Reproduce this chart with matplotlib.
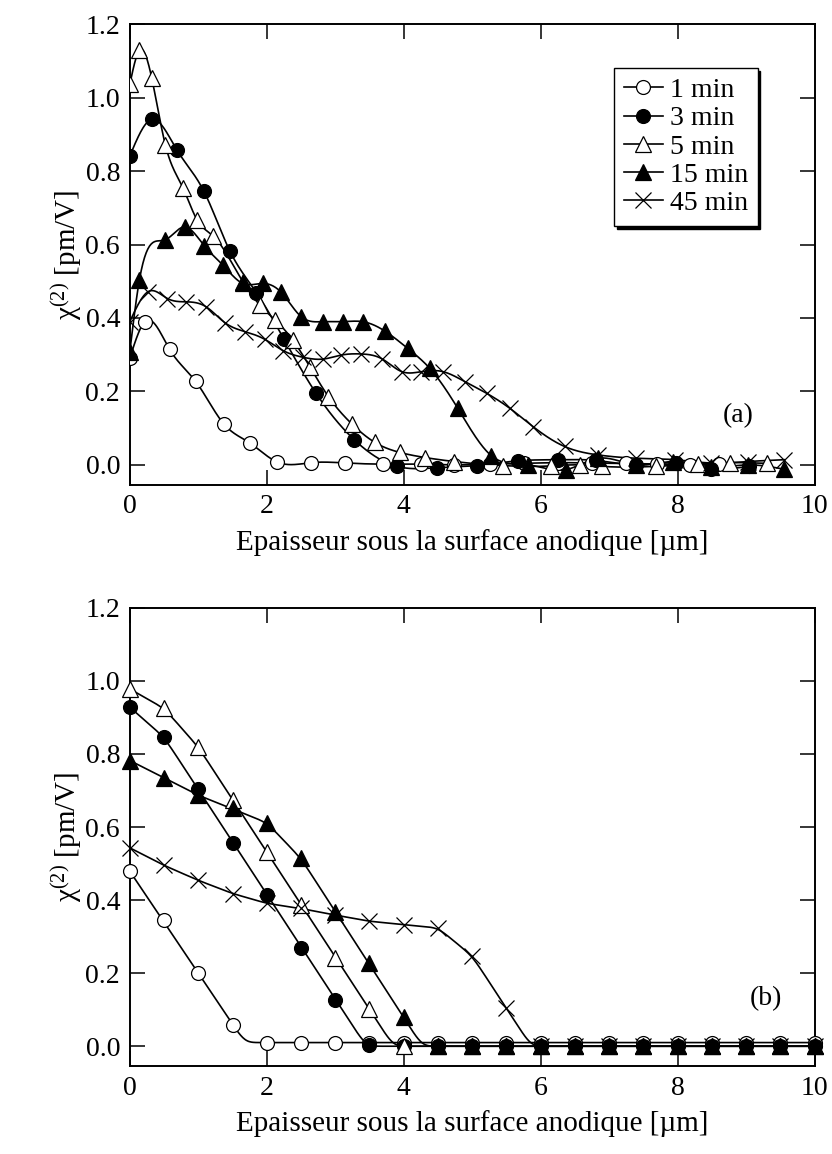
import numpy as np
import matplotlib
matplotlib.use("Agg")
import matplotlib.pyplot as plt
from matplotlib.lines import Line2D

plt.rcParams["font.family"] = ["Liberation Serif", "DejaVu Serif"]
plt.rcParams["mathtext.fontset"] = "custom"
plt.rcParams["mathtext.rm"] = "Liberation Serif"
plt.rcParams["mathtext.it"] = "Liberation Serif:italic"

# ---------------- panel (a): measured profiles ----------------
a_1min_x = [0, 0.22, 0.58, 0.96, 1.38, 1.75, 2.15, 2.65, 3.15, 3.7, 4.26, 4.74,
            5.26, 5.75, 6.25, 6.75, 7.25, 7.7, 8.18, 8.6]
a_1min_y = [0.29, 0.39, 0.315, 0.228, 0.11, 0.06, 0.008, 0.006, 0.005, 0.002, 0.002,
            0.0, 0.002, 0.004, 0.006, 0.005, 0.004, 0.002, 0.0, 0.002]

a_3min_x = [0, 0.32, 0.69, 1.08, 1.46, 1.85, 2.25, 2.72, 3.28, 3.9, 4.48, 5.07,
            5.67, 6.25, 6.81, 7.4, 7.98, 8.49, 9.05]
a_3min_y = [0.841, 0.941, 0.857, 0.746, 0.583, 0.469, 0.343, 0.195, 0.068, -0.004,
            -0.008, -0.002, 0.011, 0.014, 0.012, 0.0, 0.005, -0.01, -0.004]

a_5min_x = [0, 0.14, 0.32, 0.52, 0.78, 0.98, 1.22, 1.65, 1.9, 2.12, 2.38, 2.63, 2.9,
            3.24, 3.58, 3.94, 4.31, 4.74, 5.45, 6.15, 6.57, 6.89, 7.69, 8.3, 8.76, 9.3]
a_5min_y = [1.036, 1.129, 1.054, 0.871, 0.753, 0.668, 0.623, 0.499, 0.435, 0.395,
            0.34, 0.267, 0.186, 0.112, 0.061, 0.034, 0.02, 0.009, -0.002, -0.003,
            0.0, -0.004, -0.004, 0.002, 0.006, 0.004]

a_15min_x = [0, 0.14, 0.51, 0.8, 1.09, 1.36, 1.65, 1.95, 2.21, 2.5, 2.82, 3.11, 3.4,
             3.72, 4.06, 4.38, 4.79, 5.28, 5.82, 6.37, 6.84, 7.4, 7.93, 8.49, 9.03, 9.56]
a_15min_y = [0.308, 0.503, 0.612, 0.648, 0.596, 0.544, 0.494, 0.494, 0.47, 0.404,
             0.39, 0.39, 0.39, 0.365, 0.317, 0.263, 0.154, 0.025, 0.0, -0.013, 0.018,
             0.0, 0.009, -0.005, 0.0, -0.012]

a_45min_x = [0, 0.27, 0.55, 0.82, 1.11, 1.39, 1.68, 1.97, 2.24, 2.53, 2.82, 3.09,
             3.38, 3.69, 3.97, 4.26, 4.57, 4.89, 5.21, 5.55, 5.89, 6.35, 6.84, 7.4,
             7.96, 8.49, 9.03, 9.56]
a_45min_y = [0.39, 0.472, 0.453, 0.444, 0.431, 0.387, 0.363, 0.342, 0.311, 0.293,
             0.288, 0.299, 0.302, 0.288, 0.254, 0.254, 0.254, 0.227, 0.195, 0.154,
             0.104, 0.05, 0.027, 0.018, 0.014, 0.005, 0.009, 0.014]

# ---------------- panel (b): modelled profiles ----------------
b_x = [0, 0.5, 1.0, 1.5, 2.0, 2.5, 3.0, 3.5, 4.0, 4.5, 5.0, 5.5, 6.0, 6.5, 7.0,
       7.5, 8.0, 8.5, 9.0, 9.5, 10.0]
b_1min_y = [0.479, 0.345, 0.201, 0.058, 0.01, 0.01, 0.01, 0.01, 0.01, 0.01, 0.01,
            0.01, 0.01, 0.01, 0.01, 0.01, 0.01, 0.01, 0.01, 0.01, 0.01]
b_3min_y = [0.928, 0.846, 0.703, 0.557, 0.413, 0.268, 0.127, 0.004, 0.0, 0.0, 0.0,
            0.0, 0.0, 0.0, 0.0, 0.0, 0.0, 0.0, 0.0, 0.0, 0.0]
b_5min_y = [0.978, 0.925, 0.819, 0.675, 0.532, 0.386, 0.242, 0.102, 0.0, 0.0, 0.0,
            0.0, 0.0, 0.0, 0.0, 0.0, 0.0, 0.0, 0.0, 0.0, 0.0]
b_15min_y = [0.782, 0.734, 0.687, 0.652, 0.612, 0.514, 0.368, 0.227, 0.081, 0.0,
             0.0, 0.0, 0.0, 0.0, 0.0, 0.0, 0.0, 0.0, 0.0, 0.0, 0.0]
b_45min_y = [0.543, 0.495, 0.454, 0.418, 0.391, 0.377, 0.359, 0.342, 0.333, 0.324,
             0.247, 0.104, 0.0, 0.0, 0.0, 0.0, 0.0, 0.0, 0.0, 0.0, 0.0]

# knots of the model curves in panel (b)
fit_1min_x = [0, 1.68, 10]
fit_1min_y = [0.479, 0.01, 0.01]
fit_3min_x = [0, 0.5, 1.0, 3.45, 10]
fit_3min_y = [0.928, 0.846, 0.703, 0.0, 0.0]
fit_5min_x = [0, 0.5, 1.0, 3.85, 10]
fit_5min_y = [0.978, 0.925, 0.819, 0.0, 0.0]
fit_15min_x = [0, 1.0, 2.0, 2.5, 4.27, 10]
fit_15min_y = [0.782, 0.687, 0.612, 0.514, 0.0, 0.0]
fit_45min_x = [0, 0.5, 1.0, 1.5, 2.0, 2.5, 3.0, 3.5, 4.0, 4.5, 5.0, 5.5, 5.86, 10]
fit_45min_y = [0.543, 0.495, 0.454, 0.418, 0.391, 0.377, 0.359, 0.342, 0.333,
               0.324, 0.247, 0.104, 0.0, 0.0]

labels = ["1 min", "3 min", "5 min", "15 min", "45 min"]
styles = [
    dict(marker="o", mfc="white", mec="black", ms=10, mew=0.9),
    dict(marker="o", mfc="black", mec="black", ms=10, mew=0.9),
    dict(marker="^", mfc="white", mec="black", ms=11, mew=0.9),
    dict(marker="^", mfc="black", mec="black", ms=11, mew=0.9),
    dict(marker="x", mfc="none", mec="black", ms=11, mew=0.9),
]


def natural_spline(x, y, xs):
    x = np.asarray(x, float)
    y = np.asarray(y, float)
    n = len(x)
    h = np.diff(x)
    A = np.zeros((n, n))
    r = np.zeros(n)
    A[0, 0] = A[-1, -1] = 1.0
    for i in range(1, n - 1):
        A[i, i - 1] = h[i - 1]
        A[i, i] = 2 * (h[i - 1] + h[i])
        A[i, i + 1] = h[i]
        r[i] = 6 * ((y[i + 1] - y[i]) / h[i] - (y[i] - y[i - 1]) / h[i - 1])
    m = np.linalg.solve(A, r)
    idx = np.clip(np.searchsorted(x, xs) - 1, 0, n - 2)
    x0, x1 = x[idx], x[idx + 1]
    hh = x1 - x0
    t0 = x1 - xs
    t1 = xs - x0
    return (m[idx] * t0 ** 3 / (6 * hh) + m[idx + 1] * t1 ** 3 / (6 * hh)
            + (y[idx] / hh - m[idx] * hh / 6) * t0
            + (y[idx + 1] / hh - m[idx + 1] * hh / 6) * t1)


def rounded_polyline(x, y, xs, sigma=0.08):
    # piecewise-linear model with softened corners
    x = np.asarray(x, float)
    y = np.asarray(y, float)
    step = xs[1] - xs[0]
    pad = int(4 * sigma / step) + 1
    ext = np.concatenate([xs[0] - step * np.arange(pad, 0, -1), xs,
                          xs[-1] + step * np.arange(1, pad + 1)])
    s0 = (y[1] - y[0]) / (x[1] - x[0])
    s1 = (y[-1] - y[-2]) / (x[-1] - x[-2])
    ye = np.interp(ext, x, y)
    ye = np.where(ext < x[0], y[0] + s0 * (ext - x[0]), ye)
    ye = np.where(ext > x[-1], y[-1] + s1 * (ext - x[-1]), ye)
    k = np.arange(-pad, pad + 1) * step
    w = np.exp(-0.5 * (k / sigma) ** 2)
    w /= w.sum()
    return np.convolve(ye, w, mode="valid")


def style_axes(ax, tag, tag_xy):
    ax.set_xlim(0, 10)
    ax.set_ylim(-0.054, 1.2)
    ax.set_xticks([0, 2, 4, 6, 8, 10])
    ax.set_yticks([0.0, 0.2, 0.4, 0.6, 0.8, 1.0, 1.2])
    ax.set_yticklabels(["0.0", "0.2", "0.4", "0.6", "0.8", "1.0", "1.2"])
    ax.tick_params(direction="in", top=True, right=True, length=11, width=1.1,
                   labelsize=20, pad=7)
    for sp in ax.spines.values():
        sp.set_linewidth(1.4)
    ax.set_xlabel("Epaisseur sous la surface anodique [µm]", fontsize=21, labelpad=7)
    ax.set_ylabel(r"χ$^{\mathrm{(2)}}$ [pm/V]", fontsize=21, labelpad=1)
    ax.text(tag_xy[0], tag_xy[1], tag, fontsize=20, ha="center", va="center")


fig = plt.figure(figsize=(8.32, 11.54), dpi=100)
ax1 = fig.add_axes([0.156, 0.580, 0.823, 0.399])
ax2 = fig.add_axes([0.156, 0.0763, 0.823, 0.397])

# panel (a)
a_sets = [(a_1min_x, a_1min_y), (a_3min_x, a_3min_y), (a_5min_x, a_5min_y),
          (a_15min_x, a_15min_y), (a_45min_x, a_45min_y)]
for (xx, yy), st in zip(a_sets, styles):
    xs = np.linspace(xx[0], xx[-1], 800)
    ax1.plot(xs, natural_spline(xx, yy, xs), color="black", lw=1.2, zorder=2)
    ax1.plot(xx, yy, ls="none", zorder=3, **st)

# panel (b)
b_sets = [b_1min_y, b_3min_y, b_5min_y, b_15min_y, b_45min_y]
fits = [(fit_1min_x, fit_1min_y), (fit_3min_x, fit_3min_y), (fit_5min_x, fit_5min_y),
        (fit_15min_x, fit_15min_y), (fit_45min_x, fit_45min_y)]
xs_b = np.linspace(0, 10, 1001)
for yy, (fx, fy), st in zip(b_sets, fits, styles):
    ax2.plot(xs_b, rounded_polyline(fx, fy, xs_b), color="black", lw=1.2, zorder=2)
    ax2.plot(b_x, yy, ls="none", zorder=3, clip_on=False, **st)

style_axes(ax1, "(a)", (8.88, 0.133))
style_axes(ax2, "(b)", (9.29, 0.131))

handles = [Line2D([], [], color="black", lw=1.2, **st) for st in styles]
leg = ax1.legend(handles, labels, loc="upper right", bbox_to_anchor=(0.917, 0.905),
                 borderaxespad=0, fontsize=20, frameon=True, fancybox=False,
                 shadow={"color": "black", "alpha": 1}, handlelength=1.4,
                 handletextpad=0.25, labelspacing=0.1, borderpad=0.35)
leg.get_frame().set_edgecolor("black")
leg.get_frame().set_linewidth(1.0)

fig.savefig("out.png", dpi=100)
